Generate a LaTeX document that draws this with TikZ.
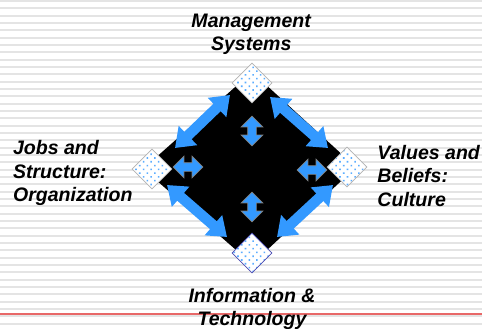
\documentclass[tikz,border=0pt]{standalone}
\usepackage{fontspec}
\setmainfont{Liberation Sans}
\usetikzlibrary{arrows.meta,shapes.geometric,shapes.arrows,patterns.meta}
\definecolor{arrowblue}{RGB}{51,153,255}
\definecolor{stripegray}{RGB}{228,228,228}
\definecolor{rulered}{RGB}{232,104,104}

\begin{document}
\begin{tikzpicture}[
  tile/.style={shape=diamond, aspect=1, minimum size=1cm, inner sep=0pt,
    draw=gray!60, line width=0.5pt, preaction={fill=white},
    pattern={Dots[angle=45,distance=3.8pt,radius=0.8pt]}, pattern color=arrowblue!80},
  areatext/.style={font=\fontsize{13.9}{16.7}\selectfont\bfseries\itshape, inner sep=0pt},
  bigarrow/.style={arrowblue, line width=0.26cm,
    {Triangle[length=0.45cm,width=0.64cm]}-{Triangle[length=0.45cm,width=0.64cm]}},
  smallarrow/.style={double arrow, fill=arrowblue, draw=gray, line width=0.5pt,
    inner sep=0.1cm, minimum height=0.74cm, minimum width=0pt,
    double arrow head extend=0.16cm}
]
  \useasboundingbox (0cm,0cm) rectangle (12.05cm,-8.2cm);
  \fill[white] (0cm,0cm) rectangle (12.05cm,-8.2cm);
  \foreach \k in {0,...,44}
    \draw[stripegray, line width=0.05cm] (0cm,{-0.025cm-\k*0.1833cm}) -- (12.05cm,{-0.025cm-\k*0.1833cm});
  \draw[rulered, line width=0.05cm] (0cm,-7.85cm) -- (12.05cm,-7.85cm);

  \fill[black] (6.3cm,-1.8cm) -- (8.9cm,-4.18cm) -- (6.3cm,-6.6cm) -- (3.58cm,-4.22cm) -- cycle;

  \coordinate (tl-a) at (4.375cm,-3.7cm);
  \coordinate (tl-b) at (5.75cm,-2.375cm);
  \coordinate (tr-a) at (6.75cm,-2.425cm);
  \coordinate (tr-b) at (8.2cm,-3.7cm);
  \coordinate (bl-a) at (4.175cm,-4.625cm);
  \coordinate (bl-b) at (5.675cm,-5.925cm);
  \coordinate (br-a) at (8.325cm,-4.625cm);
  \coordinate (br-b) at (6.925cm,-5.925cm);
  \draw[bigarrow] (tl-a) -- (tl-b);
  \draw[bigarrow] (tr-a) -- (tr-b);
  \draw[bigarrow] (bl-a) -- (bl-b);
  \draw[bigarrow] (br-a) -- (br-b);

  \node[tile] (mgmt) at (6.3cm,-2.075cm) {};
  \node[tile] (jobs) at (3.8cm,-4.225cm) {};
  \node[tile] (values) at (8.675cm,-4.175cm) {};
  \node[tile, draw=blue!40!gray] (info) at (6.3cm,-6.325cm) {};

  \node[smallarrow, shape border rotate=90] (up) at (6.3cm,-3.275cm) {};
  \node[smallarrow, shape border rotate=90] (down) at (6.3cm,-5.175cm) {};
  \node[smallarrow] (west) at (4.7cm,-4.175cm) {};
  \node[smallarrow] (east) at (7.8cm,-4.25cm) {};

  \node[areatext, anchor=base, align=center] (mgmt-text) at (6.28cm,-1.2675cm) {Management\\Systems};
  \node[areatext, anchor=base west, align=left] (jobs-text) at (0.32cm,-5.04cm) {Jobs and\\Structure:\\Organization};
  \node[areatext, anchor=base west, align=left] (values-text) at (9.43cm,-5.15cm) {Values and\\Beliefs:\\Culture};
  \node[areatext, anchor=base, align=center] (info-text) at (6.3cm,-8.14cm) {Information \&\\Technology};
\end{tikzpicture}
\end{document}
